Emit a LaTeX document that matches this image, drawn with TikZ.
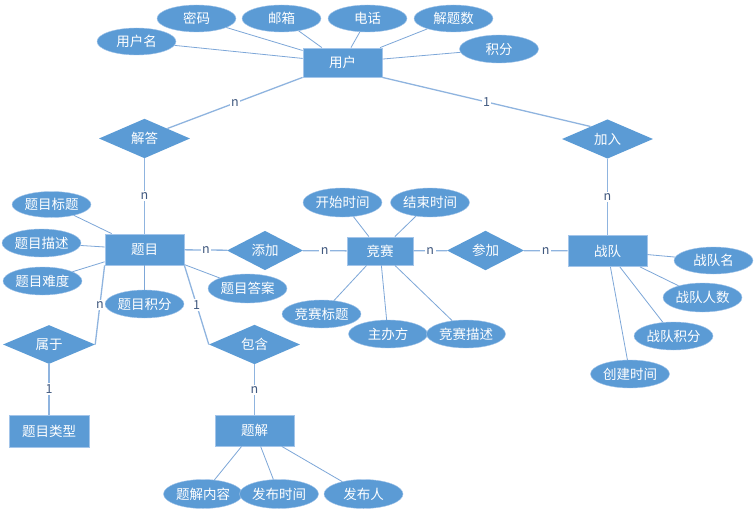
\documentclass[tikz,border=0pt]{standalone}
\usepackage{fontspec}
\setmainfont{Noto Sans CJK SC}
\usetikzlibrary{shapes.geometric,calc}
\definecolor{nodefill}{HTML}{5B9BD5}
\definecolor{nodeedge}{HTML}{A3C5EA}
\definecolor{linkcol}{HTML}{8FB4DF}
\definecolor{attrcol}{HTML}{7DA7D8}
\definecolor{labcol}{HTML}{41597F}
\begin{document}
\begin{tikzpicture}[x=1pt,y=-1pt,
  nodefont/.style={font=\fontsize{13.5}{15}\selectfont},
  ent/.style={rectangle,fill=nodefill,draw=nodeedge,line width=0.8pt,minimum width=79pt,minimum height=31pt,inner sep=0pt,text=white,nodefont},
  attr/.style={ellipse,fill=nodefill,draw=nodeedge,line width=0.4pt,minimum width=79pt,minimum height=27pt,inner sep=0pt,text=white,nodefont},
  rel/.style={diamond,fill=nodefill,draw=none,minimum width=91pt,minimum height=37pt,inner sep=0pt,text=white,nodefont},
  aline/.style={draw=attrcol,line width=0.8pt},
  rline/.style={draw=linkcol,line width=1.3pt},
  card/.style={fill=white,text=labcol,inner sep=1.5pt,font=\fontsize{12.5}{13}\selectfont}
]
\useasboundingbox[fill=white] (0,0) rectangle (755,511);

% entities
\node[ent,minimum height=29pt] (yh) at (342.5,62.5) {用户};
\node[ent] (tm) at (144.5,249.5) {题目};
\node[ent,minimum width=66pt,minimum height=28pt] (js) at (380,251) {竞赛};
\node[ent] (zd) at (607.5,251) {战队};
\node[ent,minimum width=80pt,minimum height=32pt] (lx) at (49,431) {题目类型};
\node[ent] (tj) at (254.5,430.5) {题解};

% relationships
\node[rel] (jd) at (144.5,138.5) {解答};
\node[rel,minimum height=38pt] (jr) at (607.5,139) {加入};
\node[rel,minimum width=76pt,minimum height=31pt] (tjia) at (265,250.5) {添加};
\node[rel,minimum width=77pt,minimum height=31pt] (cj) at (485.5,250.5) {参加};
\node[rel,minimum width=92pt] (sy) at (49,344.5) {属于};
\node[rel] (bh) at (254.5,344.5) {包含};

% user attributes
\node[attr] (yhm) at (136.5,41.5) {用户名};
\node[attr] (mm) at (196.5,18.5) {密码};
\node[attr] (yx) at (281.5,18.5) {邮箱};
\node[attr] (dh) at (367.5,18.5) {电话};
\node[attr] (jts) at (453.5,18.5) {解题数};
\node[attr,minimum height=28pt] (jf) at (499,49) {积分};

% problem attributes
\node[attr,minimum height=26pt] (tmbt) at (51.5,204.5) {题目标题};
\node[attr,minimum height=28pt] (tmms) at (41.5,243) {题目描述};
\node[attr,minimum height=28pt] (tmnd) at (42.5,281) {题目难度};
\node[attr,minimum height=28pt] (tmjf) at (144.5,304) {题目积分};
\node[attr,minimum height=29pt] (tmda) at (247.5,288.5) {题目答案};

% contest attributes
\node[attr,minimum height=29pt] (kssj) at (342.5,202.5) {开始时间};
\node[attr,minimum height=29pt] (jssj) at (430,202.5) {结束时间};
\node[attr,minimum height=28pt] (jsbt) at (321.5,314) {竞赛标题};
\node[attr,minimum height=28pt] (zbf) at (388,334) {主办方};
\node[attr,minimum height=28pt] (jsms) at (466,334) {竞赛描述};

% team attributes
\node[attr] (zdm) at (713.5,260.5) {战队名};
\node[attr,minimum height=29pt] (zdrs) at (702.5,297.5) {战队人数};
\node[attr,minimum height=28pt] (zdjf) at (673.5,336) {战队积分};
\node[attr,minimum height=28pt] (cjsj) at (630,374) {创建时间};

% solution attributes
\node[attr,minimum height=29pt] (tjnr) at (203,494) {题解内容};
\node[attr,minimum height=29pt] (fbsj) at (279,494) {发布时间};
\node[attr,minimum height=29pt] (fbr) at (363.5,494) {发布人};

% attribute lines
\foreach \a in {yhm,mm,yx,dh,jts,jf} \draw[aline] (yh) -- (\a);
\foreach \a in {tmbt,tmms,tmnd,tmjf,tmda} \draw[aline] (tm) -- (\a);
\foreach \a in {kssj,jssj,jsbt,zbf,jsms} \draw[aline] (js) -- (\a);
\foreach \a in {zdm,zdrs,zdjf,cjsj} \draw[aline] (zd) -- (\a);
\foreach \a in {tjnr,fbsj,fbr} \draw[aline] (tj) -- (\a);

% relationship lines
\coordinate (jdend) at ($(jd.north)!0.5!(jd.east)$);
\coordinate (jrend) at ($(jr.north)!0.37!(jr.west)$);
\draw[rline] (yh.south west) -- (jdend) node[card,midway] {n};
\draw[rline] (yh.south east) -- (jrend) node[card,midway] {1};
\draw[rline] (jd) -- (tm) node[card,midway] {n};
\draw[rline] (jr) -- (zd) node[card,midway] {n};
\draw[rline] (tm) -- (tjia) node[card,midway] {n};
\draw[rline] (tjia) -- (js) node[card,midway] {n};
\draw[rline] (js) -- (cj) node[card,midway] {n};
\draw[rline] (cj) -- (zd) node[card,midway] {n};
\draw[rline] (tm.south west) -- (sy.east) node[card,midway] {n};
\draw[rline] (tm.south east) -- (bh.west) node[card,midway] {1};
\draw[rline] (sy) -- (lx) node[card,midway] {1};
\draw[rline] (bh) -- (tj) node[card,midway] {n};
\end{tikzpicture}
\end{document}
